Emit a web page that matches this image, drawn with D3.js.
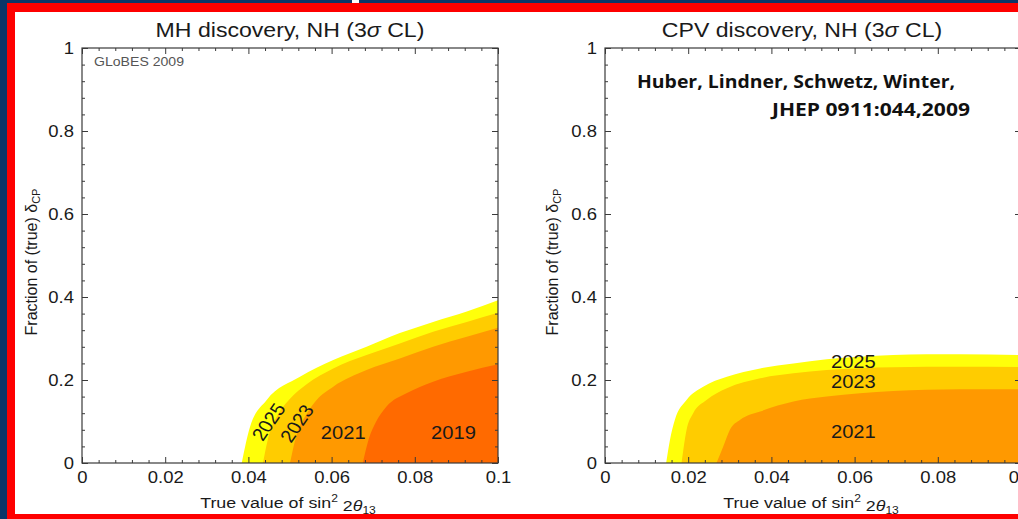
<!DOCTYPE html>
<html><head><meta charset="utf-8">
<script src="https://cdn.jsdelivr.net/npm/d3@7"></script>
<style>html,body{margin:0;padding:0;background:#0c3668;overflow:hidden}</style>
</head><body><svg id="c" width="1018" height="519"></svg>
<script>
// ---- Data: upper boundary of each exposure contour, fraction of true δCP vs sin²2θ13 ----
const xTicks = [0, 0.02, 0.04, 0.06, 0.08, 0.1];
const yTicks = [0, 0.2, 0.4, 0.6, 0.8, 1];

// MH discovery, normal hierarchy (3σ)
const mhYears = ["2025", "2023", "2021", "2019"];
const mh2025X = [0.0384, 0.0404, 0.0444, 0.0524, 0.0604, 0.0684, 0.0764, 0.0844, 0.0925, 0.1];
const mh2025Y = [0, 0.0875, 0.152, 0.208, 0.248, 0.280, 0.313, 0.340, 0.365, 0.392];
const mh2023X = [0.0435, 0.0450, 0.0470, 0.0500, 0.0540, 0.0604, 0.0684, 0.0764, 0.0844, 0.0925, 0.1];
const mh2023Y = [0, 0.070, 0.115, 0.155, 0.190, 0.228, 0.260, 0.288, 0.316, 0.340, 0.362];
const mh2021X = [0.0500, 0.0515, 0.0540, 0.0564, 0.0604, 0.0684, 0.0764, 0.0844, 0.0925, 0.1];
const mh2021Y = [0, 0.065, 0.118, 0.152, 0.184, 0.224, 0.252, 0.280, 0.304, 0.326];
const mh2019X = [0.0675, 0.0690, 0.0705, 0.0732, 0.0780, 0.0844, 0.0925, 0.1];
const mh2019Y = [0, 0.060, 0.0956, 0.136, 0.168, 0.196, 0.220, 0.238];
// label anchors (data units) and rotation
const mhLabelX = [0.0448, 0.0516, 0.0628, 0.0893];
const mhLabelY = [0.0995, 0.0957, 0.073, 0.073];
const mhLabelRot = [-58, -58, 0, 0];

// CPV discovery, normal hierarchy (3σ)
const cpvYears = ["2025", "2023", "2021"];
const cpv2025X = [0.0147, 0.0156, 0.0168, 0.0196, 0.0236, 0.0293, 0.0373, 0.0453, 0.0533, 0.0613, 0.0693, 0.0773, 0.0853, 0.1];
const cpv2025Y = [0, 0.055, 0.104, 0.152, 0.184, 0.208, 0.228, 0.240, 0.250, 0.256, 0.260, 0.262, 0.262, 0.260];
const cpv2023X = [0.0184, 0.0196, 0.0212, 0.0244, 0.0293, 0.0373, 0.0453, 0.0533, 0.0693, 0.0853, 0.1];
const cpv2023Y = [0, 0.0795, 0.120, 0.152, 0.180, 0.204, 0.216, 0.224, 0.231, 0.232, 0.231];
const cpv2021X = [0.0268, 0.0284, 0.0300, 0.0325, 0.0373, 0.0453, 0.0533, 0.0613, 0.0693, 0.0853, 0.1];
const cpv2021Y = [0, 0.039, 0.0795, 0.104, 0.124, 0.148, 0.160, 0.168, 0.1735, 0.1776, 0.178];
const cpvLabelX = [0.0597, 0.0597, 0.0597];
const cpvLabelY = [0.244, 0.196, 0.0754];
const cpvLabelRot = [0, 0, 0];

const yearColor = {"2025": "#ffff0a", "2023": "#ffcc00", "2021": "#ff9900", "2019": "#ff6a00"};

// ---- Page ----
const svg = d3.select("#c");
const W = 1018, H = 519;
const FONT = "'Liberation Sans', Arial, sans-serif";
const SX = 1.12; // horizontal stretch of the figure's lettering

svg.append("rect").attr("width", W).attr("height", H).attr("fill", "#0c3668");
svg.append("rect").attr("x", 7).attr("y", 3).attr("width", W - 7).attr("height", H - 3).attr("fill", "#fe0000");
svg.append("rect").attr("x", 15).attr("y", 12).attr("width", W - 15).attr("height", 514 - 12).attr("fill", "#ffffff");
svg.append("rect").attr("x", 352).attr("y", 0).attr("width", 7).attr("height", 3).attr("fill", "#ffffff");

function stretchedText(g, x, y, str, size, opts = {}) {
  const t = g.append("text")
    .attr("transform", `translate(${x},${y}) scale(${opts.sx || SX},1)` + (opts.rot ? ` rotate(${opts.rot})` : ""))
    .attr("text-anchor", opts.anchor || "middle")
    .attr("font-family", FONT)
    .attr("font-size", size)
    .attr("fill", opts.fill || "#1a1a1a");
  if (opts.dy) t.attr("dy", opts.dy);
  t.text(str);
  return t;
}

function panel(cfg) {
  const g = svg.append("g");
  const x = d3.scaleLinear().domain([0, 0.1]).range([cfg.x0, cfg.x1]);
  const y = d3.scaleLinear().domain([0, 1]).range([463, 48]);

  // filled contours, largest exposure first
  const area = d3.area()
    .x(d => x(d[0])).y0(y(0)).y1(d => y(d[1]))
    .curve(d3.curveMonotoneX);
  cfg.contours.forEach(c => {
    const pts = c.xs.map((v, i) => [v, c.ys[i]]);
    g.append("path").attr("d", area(pts)).attr("fill", yearColor[c.year]);
  });

  // contour labels
  cfg.years.forEach((yr, i) => {
    stretchedText(g, x(cfg.lx[i]), y(cfg.ly[i]), yr, 18, {rot: cfg.lr[i], dy: "0.36em"});
  });

  // frame
  const frameColor = "#3a3a3a";
  g.append("rect").attr("x", cfg.x0).attr("y", 48)
    .attr("width", cfg.x1 - cfg.x0).attr("height", 463 - 48)
    .attr("fill", "none").attr("stroke", frameColor).attr("stroke-width", 1.2);

  const xMinor = d3.range(0, 26).filter(i => i % 5 !== 0).map(i => i * 0.004);
  const yMinor = d3.range(0, 26).filter(i => i % 5 !== 0).map(i => i * 0.04);
  const fmt = d => d === 0 ? "0" : String(+d.toFixed(2));

  const axes = [
    [d3.axisBottom(x).tickValues(xTicks).tickSize(-6).tickPadding(8).tickFormat(fmt), `translate(0,463)`, true],
    [d3.axisBottom(x).tickValues(xMinor).tickSize(-3).tickFormat(""), `translate(0,463)`, false],
    [d3.axisTop(x).tickValues(xTicks).tickSize(-6).tickFormat(""), `translate(0,48)`, false],
    [d3.axisTop(x).tickValues(xMinor).tickSize(-3).tickFormat(""), `translate(0,48)`, false],
    [d3.axisLeft(y).tickValues(yTicks).tickSize(-6).tickPadding(8).tickFormat(fmt), `translate(${cfg.x0},0)`, true],
    [d3.axisLeft(y).tickValues(yMinor).tickSize(-3).tickFormat(""), `translate(${cfg.x0},0)`, false],
    [d3.axisRight(y).tickValues(yTicks).tickSize(-6).tickFormat(""), `translate(${cfg.x1},0)`, false],
    [d3.axisRight(y).tickValues(yMinor).tickSize(-3).tickFormat(""), `translate(${cfg.x1},0)`, false]
  ];
  axes.forEach(([ax, tr, labelled]) => {
    const a = g.append("g").attr("transform", tr).call(ax);
    a.select(".domain").remove();
    a.selectAll(".tick line").attr("stroke", frameColor).attr("stroke-width", 1);
    if (labelled) {
      a.selectAll(".tick text")
        .attr("font-family", FONT).attr("font-size", 16.5).attr("fill", "#1a1a1a")
        .each(function () {
          const t = d3.select(this);
          const tx = +t.attr("x") || 0;
          // stretch horizontally about the label's anchor point
          t.attr("transform", `translate(${tx},0) scale(${SX},1) translate(${-tx},0)`);
        });
    }
  });

  // title
  const title = g.append("text")
    .attr("transform", `translate(${cfg.titleX},37) scale(1.1,1)`)
    .attr("text-anchor", "middle").attr("font-family", FONT).attr("font-size", 21).attr("fill", "#1a1a1a");
  title.append("tspan").text(cfg.title + " (3");
  title.append("tspan").attr("font-style", "italic").text("σ");
  title.append("tspan").text(" CL)");

  // x axis title
  const xt = g.append("text")
    .attr("transform", `translate(${(cfg.x0 + cfg.x1) / 2 - 2},508) scale(1.15,1)`)
    .attr("text-anchor", "middle").attr("font-family", FONT).attr("font-size", 15.5).attr("fill", "#1a1a1a");
  xt.append("tspan").text("True value of sin");
  xt.append("tspan").attr("font-size", 10.5).attr("dy", "-0.55em").text("2");
  xt.append("tspan").attr("dy", "0.55em").text(" 2");
  xt.append("tspan").attr("font-style", "italic").text("θ");
  xt.append("tspan").attr("font-size", 10.5).attr("dy", "0.35em").text("13");

  // y axis title
  const yt = g.append("text")
    .attr("transform", `translate(${cfg.yTitleX},262) rotate(-90)`)
    .attr("text-anchor", "middle").attr("font-family", FONT).attr("font-size", 16).attr("fill", "#1a1a1a");
  yt.append("tspan").text("Fraction of (true) δ");
  yt.append("tspan").attr("font-size", 11).attr("dy", "0.3em").text("CP");
  return {g, x, y};
}

panel({
  x0: 82, x1: 498, title: "MH discovery, NH", titleX: 290, yTitleX: 37,
  years: mhYears, lx: mhLabelX, ly: mhLabelY, lr: mhLabelRot,
  contours: [
    {year: "2025", xs: mh2025X, ys: mh2025Y},
    {year: "2023", xs: mh2023X, ys: mh2023Y},
    {year: "2021", xs: mh2021X, ys: mh2021Y},
    {year: "2019", xs: mh2019X, ys: mh2019Y}
  ]
});

panel({
  x0: 605, x1: 1021, title: "CPV discovery, NH", titleX: 802, yTitleX: 558,
  years: cpvYears, lx: cpvLabelX, ly: cpvLabelY, lr: cpvLabelRot,
  contours: [
    {year: "2025", xs: cpv2025X, ys: cpv2025Y},
    {year: "2023", xs: cpv2023X, ys: cpv2023Y},
    {year: "2021", xs: cpv2021X, ys: cpv2021Y}
  ]
});

// small grey tag in the MH panel
svg.append("text").attr("x", 94).attr("y", 66)
  .attr("font-family", FONT).attr("font-size", 12).attr("fill", "#555")
  .attr("textLength", 90).attr("lengthAdjust", "spacingAndGlyphs")
  .text("GLoBES 2009");

// reference note in the CPV panel
const ref = svg.append("g").attr("font-family", "'Open Sans', 'Noto Sans', sans-serif")
  .attr("font-weight", "bold").attr("font-size", 17).attr("fill", "#111");
ref.append("text").attr("x", 637).attr("y", 87.5)
  .attr("textLength", 318).attr("lengthAdjust", "spacingAndGlyphs")
  .text("Huber, Lindner, Schwetz, Winter,");
ref.append("text").attr("x", 772).attr("y", 116)
  .attr("textLength", 198).attr("lengthAdjust", "spacingAndGlyphs")
  .text("JHEP 0911:044,2009");
</script></body></html>
